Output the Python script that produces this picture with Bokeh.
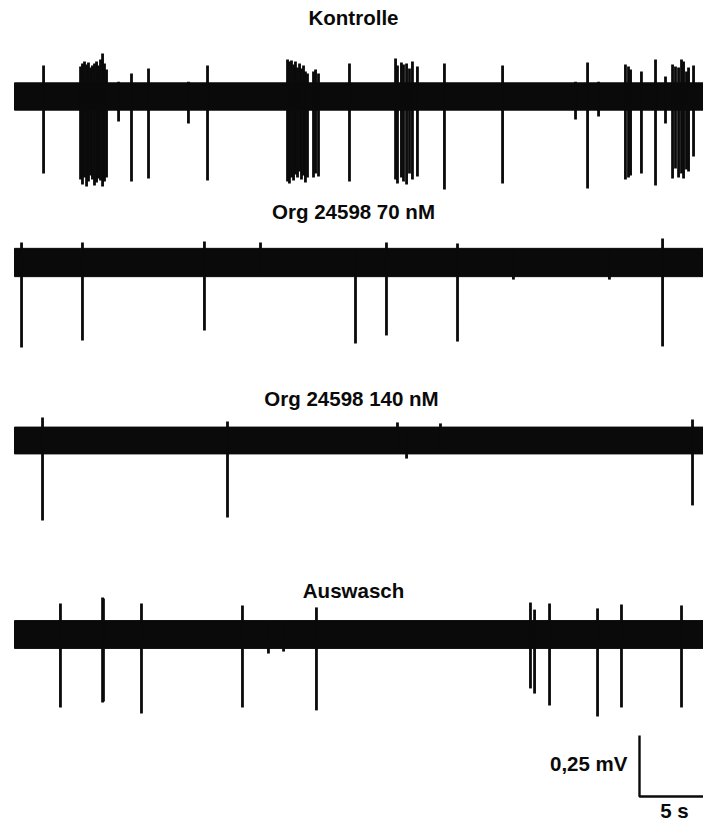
from bokeh.plotting import figure
from bokeh.models import Range1d
from bokeh.core.properties import value
from bokeh.embed import file_html
from bokeh.resources import INLINE

# ---------------- data (time in s, amplitude in mV) ----------------
titles = ["Kontrolle", "Org 24598 70 nM", "Org 24598 140 nM", "Auswasch"]
trace_duration = 54.0          # s
noise_halfwidth = [0.056, 0.058, 0.055, 0.057]   # mV (noise band half-amplitude)

# Kontrolle
t1 = [2.27, 5.16, 5.31, 5.47, 5.63, 5.78, 5.94, 6.09, 6.25, 6.41, 6.56, 6.72, 6.88, 7.03, 7.19,
      8.13, 9.14, 10.47, 13.59, 15.08,
      21.33, 21.48, 21.64, 21.80, 21.95, 22.11, 22.27, 22.42, 22.58, 22.73, 22.89, 23.36, 23.52, 23.75,
      26.17, 29.77, 29.92, 30.23, 30.39, 30.63, 30.86, 31.09, 31.48,
      33.59, 38.13, 43.83, 44.77, 45.63, 47.73, 47.97, 48.13, 48.98, 50.08, 50.86,
      51.41, 51.64, 51.88, 52.11, 52.27, 52.50, 52.66, 53.05]
up1 = [0.127, 0.123, 0.135, 0.143, 0.131, 0.139, 0.119, 0.127, 0.135, 0.143, 0.127, 0.152, 0.176, 0.135, 0.111,
       0.06, 0.094, 0.115, 0.06, 0.127,
       0.152, 0.143, 0.148, 0.131, 0.143, 0.119, 0.135, 0.115, 0.127, 0.102, 0.094, 0.102, 0.111, 0.094,
       0.135, 0.156, 0.127, 0.139, 0.131, 0.135, 0.115, 0.143, 0.123,
       0.135, 0.127, 0.06, 0.139, 0.06, 0.131, 0.123, 0.111, 0.102, 0.152, 0.082,
       0.131, 0.123, 0.119, 0.152, 0.143, 0.102, 0.119, 0.127]
down1 = [0.316, 0.340, 0.361, 0.332, 0.369, 0.348, 0.324, 0.340, 0.365, 0.352, 0.336, 0.344, 0.369, 0.348, 0.332,
         0.102, 0.348, 0.336, 0.111, 0.344,
         0.348, 0.357, 0.332, 0.344, 0.320, 0.332, 0.307, 0.340, 0.324, 0.352, 0.332, 0.332, 0.316, 0.328,
         0.348, 0.340, 0.357, 0.332, 0.348, 0.361, 0.316, 0.340, 0.328,
         0.381, 0.357, 0.094, 0.377, 0.082, 0.340, 0.332, 0.324, 0.316, 0.365, 0.111,
         0.336, 0.295, 0.332, 0.316, 0.336, 0.299, 0.307, 0.246]

# Org 24598 70 nM
t2 = [0.55, 5.31, 14.84, 19.22, 26.64, 29.06, 34.61, 38.98, 46.48, 50.63]
up2 = [0.082, 0.082, 0.086, 0.082, 0.05, 0.082, 0.078, 0.05, 0.05, 0.098]
down2 = [0.348, 0.320, 0.279, 0.05, 0.332, 0.299, 0.324, 0.07, 0.07, 0.344]

# Org 24598 140 nM
t3 = [2.19, 16.64, 29.92, 30.63, 33.28, 52.97]
up3 = [0.094, 0.078, 0.074, 0.05, 0.07, 0.086]
down3 = [0.328, 0.316, 0.05, 0.074, 0.05, 0.266]

# Auswasch
t4 = [3.59, 6.88, 6.95, 9.92, 17.81, 19.84, 21.02, 23.59, 40.31, 40.63, 41.80, 45.55, 47.42, 52.11]
up4 = [0.127, 0.152, 0.148, 0.127, 0.119, 0.05, 0.05, 0.111, 0.131, 0.102, 0.127, 0.107, 0.123, 0.119]
down4 = [0.299, 0.279, 0.275, 0.324, 0.299, 0.078, 0.07, 0.311, 0.221, 0.242, 0.291, 0.336, 0.299, 0.299]

scale_time = 5.0      # s
scale_volt = 0.25     # mV
scale_labels = ["0,25 mV", "5 s"]

# ---------------- layout ----------------
W, H = 703, 823
PX_S = 12.8          # px per s
PX_MV = 244.0        # px per mV
X_LEFT = 14          # page x of trace start

def px(page_x):
    return (page_x - X_LEFT) / PX_S

def py(page_y):
    return -page_y / PX_MV

p = figure(width=W, height=H, output_backend="svg", toolbar_location=None,
           x_range=Range1d(px(0), px(W)), y_range=Range1d(py(H), py(0)),
           min_border=0, outline_line_color=None, background_fill_color="white",
           border_fill_color="white")
p.xaxis.visible = False
p.yaxis.visible = False
p.grid.visible = False

bases = [py(96), py(262), py(440), py(634)]
title_y = [py(17), py(210.5), py(398), py(589.5)]
title_x = [px(353), px(353), px(351), px(353)]

ink = "#0a0a0a"
FONT = value("Liberation Sans")
FS = "20.5px"
traces = [(t1, up1, down1), (t2, up2, down2), (t3, up3, down3), (t4, up4, down4)]
for i, (ts, ups, downs) in enumerate(traces):
    b = bases[i]
    hw = noise_halfwidth[i]
    p.quad(left=0, right=trace_duration, bottom=b - hw, top=b + hw,
           fill_color=ink, line_color=ink, line_width=1)
    p.segment(x0=ts, y0=[b + u for u in ups], x1=ts, y1=[b - d for d in downs],
              line_color=ink, line_width=2.8)
    p.text(x=[title_x[i]], y=[title_y[i]], text=[titles[i]], text_font=FONT,
           text_font_style="bold", text_font_size=FS, text_align="center",
           text_baseline="middle", text_color=ink)

# scale bar
sx = px(639)
sy = py(796)
p.line([sx, sx, sx + scale_time], [sy + scale_volt, sy, sy], line_color=ink, line_width=2.4)
p.text(x=[px(627)], y=[py(763)], text=[scale_labels[0]], text_font=FONT, text_font_style="bold",
       text_font_size=FS, text_align="right", text_baseline="middle", text_color=ink)
p.text(x=[px(674)], y=[py(810)], text=[scale_labels[1]], text_font=FONT,
       text_font_style="bold", text_font_size=FS, text_align="center",
       text_baseline="middle", text_color=ink)

open("out.html", "w").write(file_html(p, INLINE))
